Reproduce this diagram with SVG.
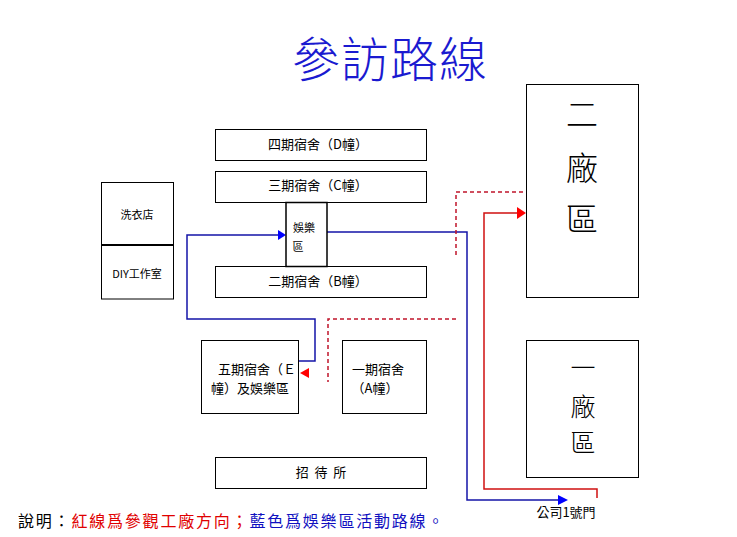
<svg xmlns="http://www.w3.org/2000/svg" width="737" height="537" viewBox="0 0 737 537">
<style>
.box{fill:#fff;stroke:#000;stroke-width:1}
.t{font-family:"Noto Sans CJK TC","Noto Sans CJK SC",sans-serif;font-size:13px;fill:#000;text-anchor:middle;dominant-baseline:central}
.big{font-family:"Noto Sans CJK TC","Noto Sans CJK SC",sans-serif;fill:#000;text-anchor:middle;dominant-baseline:central;font-weight:300}
.blue{fill:none;stroke:#1414a8;stroke-width:1.5}
.red{fill:none;stroke:#d01010;stroke-width:1.5}
.reddash{fill:none;stroke:#c0142a;stroke-width:1.5;stroke-dasharray:4,3}
</style>
<defs>
<marker id="ab" viewBox="0 0 10 10" refX="10" refY="5" markerWidth="6" markerHeight="6" orient="auto" markerUnits="userSpaceOnUse"><path d="M0,0 L10,5 L0,10 z" fill="#0000ff"/></marker>
<marker id="ar" viewBox="0 0 10 10" refX="10" refY="5" markerWidth="6" markerHeight="6" orient="auto" markerUnits="userSpaceOnUse"><path d="M0,0 L10,5 L0,10 z" fill="#ff0000"/></marker>
</defs>
<rect width="737" height="537" fill="#fff"/>
<text x="390" y="56" font-family="Noto Sans CJK TC,Noto Sans CJK SC,sans-serif" font-size="48" font-weight="300" fill="#1a1ad0" text-anchor="middle" dominant-baseline="central" letter-spacing="1">參訪路線</text>

<g id="connectors">
<polyline class="blue" points="299,361 315,361 315,319 187,319 187,235 280,235"/>
<path d="M278,230 L286,235 L278,240 z" fill="#0000ff"/>
<polyline class="blue" points="327,232 467,232 467,500 560,500"/>
<path d="M558,495 L568,500 L558,505 z" fill="#0000ff"/>
<polyline class="red" points="597,498 597,489 484,489 484,213 518,213"/>
<path d="M517,207 L526,213 L517,219 z" fill="#ff0000"/>
<polyline class="reddash" points="456,255 456,192 526,192"/>
<polyline class="reddash" points="456,319 328,319 328,382"/>
<path d="M309,368 L300,373 L309,378 z" fill="#ff0000"/>
</g>

<g id="node-d"><rect class="box" x="215.5" y="129.5" width="211" height="31"/><text class="t" x="318" y="143">四期宿舍（D幢）</text></g>
<g id="node-c"><rect class="box" x="215.5" y="171.5" width="211" height="31"/><text class="t" x="318" y="184">三期宿舍（C幢）</text></g>
<g id="node-b"><rect class="box" x="215.5" y="266.5" width="211" height="31"/><text class="t" x="318" y="280">二期宿舍（B幢）</text></g>
<g id="node-yule"><rect class="box" x="286" y="202.5" width="41" height="64" style="stroke-width:1.5"/><text class="t" x="304" y="227" style="font-size:11px">娛樂</text><text class="t" x="298" y="246" style="font-size:11px">區</text></g>
<g id="node-laundry"><rect class="box" x="101.5" y="182.5" width="72" height="63"/><text class="t" x="137" y="214" style="font-size:11px">洗衣店</text></g>
<g id="node-diy"><rect class="box" x="101.5" y="245" width="72" height="54"/><line x1="101" y1="245" x2="174" y2="245" stroke="#000" stroke-width="2"/><text class="t" x="137" y="273" style="font-size:11px">DIY工作室</text></g>
<g id="node-e"><rect class="box" x="201.5" y="340.5" width="97" height="73"/><text class="t" x="257" y="368">五期宿舍（Ｅ</text><text class="t" x="250" y="387">幢）及娛樂區</text></g>
<g id="node-a"><rect class="box" x="342.5" y="340.5" width="84" height="73"/><text class="t" x="378" y="368">一期宿舍</text><text class="t" x="375" y="387">（A幢）</text></g>
<g id="node-guest"><rect class="box" x="215.5" y="457.5" width="211" height="31"/><text class="t" x="321" y="471" xml:space="preserve">招  待  所</text></g>
<g id="node-plant2"><rect class="box" x="526.5" y="84.5" width="112" height="213"/><text class="big" x="582" y="112" font-size="32">二</text><text class="big" x="582" y="166" font-size="32">廠</text><text class="big" x="582" y="217" font-size="32">區</text></g>
<g id="node-plant1"><rect class="box" x="526.5" y="340.5" width="112" height="137"/><text class="big" x="583" y="366" font-size="25">一</text><text class="big" x="583" y="405" font-size="25">廠</text><text class="big" x="583" y="441" font-size="25">區</text></g>
<g id="node-gate"><text class="t" x="566" y="511">公司1號門</text></g>

<text x="18" y="520" font-family="Noto Sans CJK TC,Noto Sans CJK SC,sans-serif" font-size="16" letter-spacing="1.8" dominant-baseline="central"><tspan fill="#000">說明：</tspan><tspan fill="#e00000">紅線爲參觀工廠方向；</tspan><tspan fill="#1010c0">藍色爲娛樂區活動路線。</tspan></text>
</svg>
